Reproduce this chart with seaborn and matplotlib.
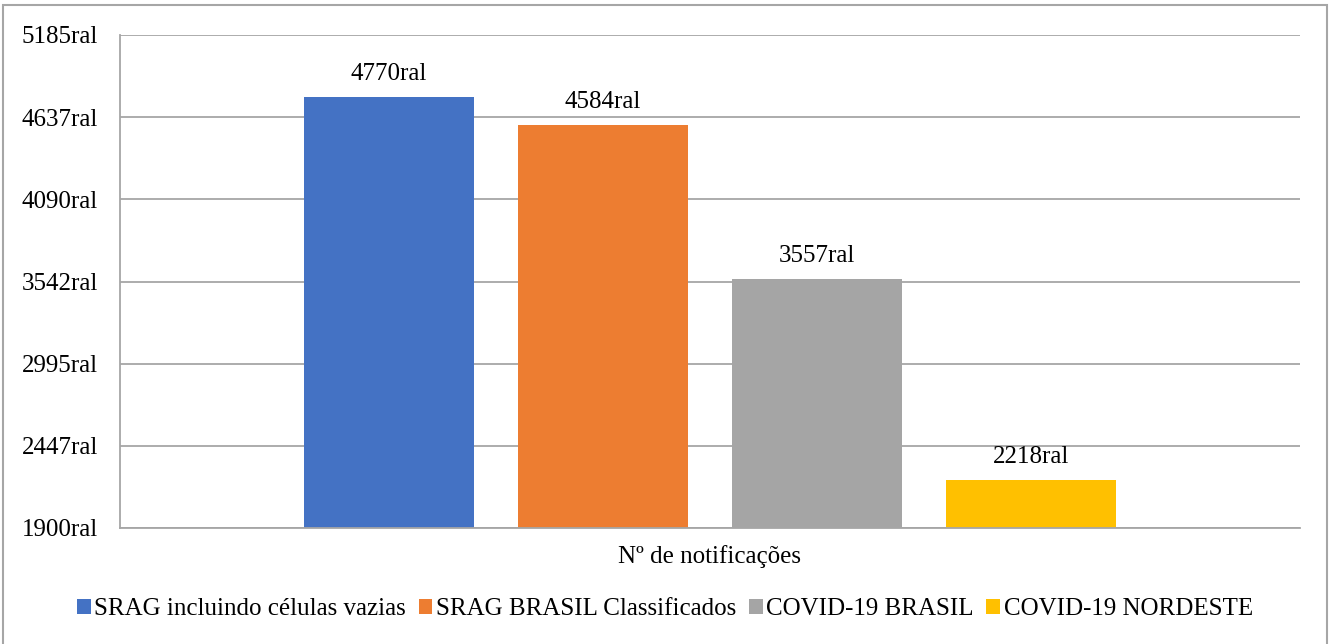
import matplotlib
matplotlib.use("Agg")
import matplotlib.pyplot as plt
import seaborn as sns
import pandas as pd
from matplotlib.patches import Rectangle

series = ["SRAG incluindo células vazias", "SRAG BRASIL Classificados",
          "COVID-19 BRASIL", "COVID-19 NORDESTE"]
values = [4770, 4584, 3557, 2218]
colors = ["#4472C4", "#ED7D31", "#A5A5A5", "#FFC000"]
category = "Nº de notificações"
y_ticks = [1900, 2447, 2995, 3542, 4090, 4637, 5185]
y_tick_labels = [f"{v}ral" for v in y_ticks]

sns.set_theme(style="white")
plt.rcParams["font.family"] = ["Liberation Serif", "DejaVu Serif"]
plt.rcParams["text.color"] = "black"

df = pd.DataFrame({"cat": [category] * len(series), "serie": series, "valor": values})

fig = plt.figure(figsize=(13.3, 6.44), dpi=100)
ax = fig.add_axes([120 / 1330, 1 - 528 / 644, 1180 / 1330, 493 / 644])

sns.barplot(data=df, x="cat", y="valor", hue="serie", hue_order=series,
            palette=colors, width=0.7254, gap=0.21, saturation=1,
            errorbar=None, linewidth=0, ax=ax, legend=True)

ax.set_xlim(-0.5, 0.5)
ax.set_ylim(y_ticks[0], y_ticks[-1])
ax.set_yticks(y_ticks)
ax.set_yticklabels(y_tick_labels, fontsize=18, color="black")
ax.tick_params(axis="y", length=0, pad=16)
ax.tick_params(axis="x", length=0, labelsize=18, pad=12, labelcolor="black")
ax.set_xlabel("")
ax.set_ylabel("")
ax.grid(axis="y", color="#A6A6A6", linewidth=1.3)
ax.set_axisbelow(True)
for side in ["top", "right"]:
    ax.spines[side].set_visible(False)
for side in ["left", "bottom"]:
    ax.spines[side].set_color("#A6A6A6")
    ax.spines[side].set_linewidth(1.3)

for container in ax.containers:
    ax.bar_label(container, labels=[f"{v:.0f}ral" for v in container.datavalues],
                 padding=9, fontsize=18, color="black")

handles, labels = ax.get_legend_handles_labels()
ax.legend_.remove()
fig.legend(handles, labels, loc="center", bbox_to_anchor=(0.5, 1 - 609 / 644),
           ncol=4, frameon=False, fontsize=18, handlelength=0.55, handleheight=0.55,
           handletextpad=0.15, columnspacing=0.5, labelcolor="black")

fig.patches.append(Rectangle((3 / 1330, -0.01), 1324 / 1330, 1 - 5 / 644 + 0.01,
                             transform=fig.transFigure, fill=False,
                             edgecolor="#A6A6A6", linewidth=1.5))

fig.savefig("out.png", dpi=100)
